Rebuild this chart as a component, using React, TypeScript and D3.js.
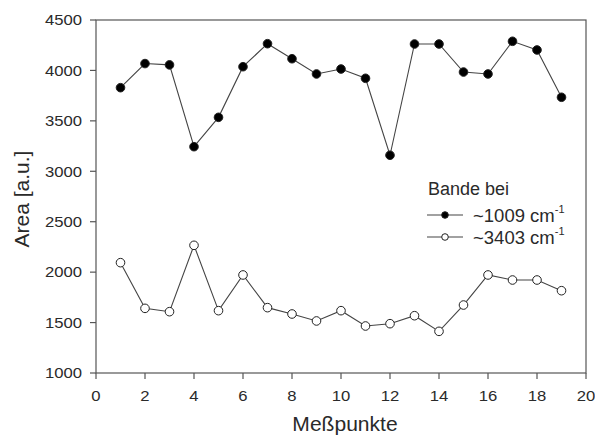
import React from "react";
import * as d3 from "d3";

const points = d3.range(1, 20);
const band1009 = [3829, 4068, 4055, 3244, 3535, 4037, 4265, 4116, 3965, 4014, 3922, 3159, 4262, 4262, 3984, 3965, 4289, 4203, 3734];
const band3403 = [2094, 1641, 1608, 2266, 1618, 1972, 1648, 1585, 1516, 1618, 1466, 1489, 1568, 1413, 1674, 1972, 1922, 1922, 1816];
const xTicks = [0, 2, 4, 6, 8, 10, 12, 14, 16, 18, 20];
const yTicks = [1000, 1500, 2000, 2500, 3000, 3500, 4000, 4500];
const legendTitle = "Bande bei";
const seriesLabels = ["~1009 cm", "~3403 cm"];

export default function App() {
  const W = 595, H = 442;
  const left = 96, right = 586, top = 20, bottom = 373;
  const x = d3.scaleLinear().domain([0, 20]).range([left, right]);
  const y = d3.scaleLinear().domain([1000, 4500]).range([bottom, top]);
  const line = d3.line<number>().x((_, i) => x(points[i])).y((d) => y(d));
  const font = "Arial, 'Liberation Sans', sans-serif";
  const txt = "#2a2a2a";
  const axisC = "#555";
  const lineC = "#444";

  const series = [
    { data: band1009, fill: "#000" },
    { data: band3403, fill: "#fff" },
  ];

  const legX = 427, legRow = [215, 237];

  return (
    <svg width={W} height={H} style={{ position: "absolute", left: 0, top: 0 }} fontFamily={font}>
      <rect width={W} height={H} fill="#fff" />
      <rect x={left} y={top} width={right - left} height={bottom - top} fill="none" stroke={axisC} strokeWidth={1.2} />
      {yTicks.map((t) => (
        <g key={"y" + t}>
          <line x1={left - 6} x2={left} y1={y(t)} y2={y(t)} stroke={axisC} strokeWidth={1.2} />
          <text transform={`translate(${left - 14},${y(t)}) scale(1.15,1)`} dy="0.36em" textAnchor="end" fontSize={14.5} fill={txt}>{t}</text>
        </g>
      ))}
      {xTicks.map((t) => (
        <g key={"x" + t}>
          <line x1={x(t)} x2={x(t)} y1={bottom} y2={bottom + 6} stroke={axisC} strokeWidth={1.2} />
          <text transform={`translate(${x(t)},401) scale(1.15,1)`} textAnchor="middle" fontSize={14.5} fill={txt}>{t}</text>
        </g>
      ))}
      <text transform={`translate(29,199) rotate(-90)`} textAnchor="middle" fontSize={21} fill={txt}>Area [a.u.]</text>
      <text transform={`translate(345,431) scale(1.08,1)`} textAnchor="middle" fontSize={19.5} fill={txt}>Meßpunkte</text>
      {series.map((s, k) => (
        <g key={"s" + k}>
          <path d={line(s.data) || ""} fill="none" stroke={lineC} strokeWidth={1.1} />
          {s.data.map((v, i) => (
            <circle key={i} cx={x(points[i])} cy={y(v)} r={4.3} fill={s.fill} stroke="#222" strokeWidth={1} />
          ))}
        </g>
      ))}
      <text x={428} y={195} fontSize={18} fill={txt}>{legendTitle}</text>
      {series.map((s, k) => (
        <g key={"l" + k}>
          <line x1={legX} x2={legX + 36} y1={legRow[k]} y2={legRow[k]} stroke={lineC} strokeWidth={1.1} />
          <circle cx={legX + 18} cy={legRow[k]} r={3.3} fill={s.fill} stroke="#222" strokeWidth={1} />
          <text x={473} y={legRow[k]} dy="0.36em" fontSize={18.5} fill={txt}>
            {seriesLabels[k]}
            <tspan fontSize={11} dy="-0.75em">-1</tspan>
          </text>
        </g>
      ))}
    </svg>
  );
}
